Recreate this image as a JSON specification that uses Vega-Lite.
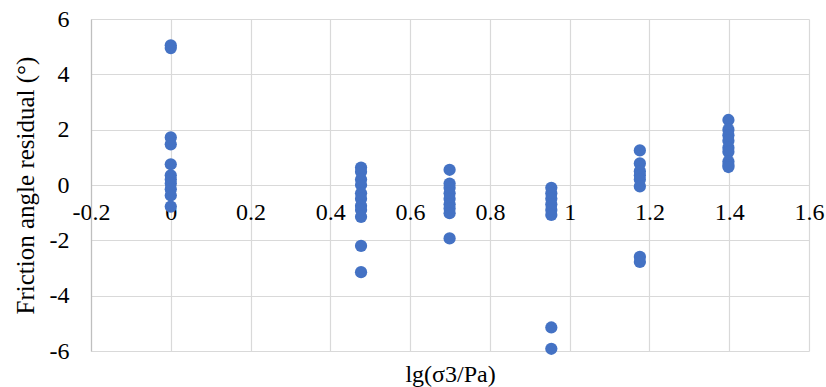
{
  "$schema": "https://vega.github.io/schema/vega-lite/v6.json",
  "width": 718,
  "height": 332,
  "autosize": "none",
  "padding": {"left": 91, "top": 19, "right": 17, "bottom": 36},
  "background": "white",
  "config": {
    "view": {"stroke": null},
    "font": "Liberation Serif"
  },
  "data": {
    "values": [
      {"x": 0, "y": 5.05}, {"x": 0, "y": 4.95}, {"x": 0, "y": 1.72}, {"x": 0, "y": 1.47},
      {"x": 0, "y": 0.75}, {"x": 0, "y": 0.35}, {"x": 0, "y": 0.2}, {"x": 0, "y": 0.05},
      {"x": 0, "y": -0.15}, {"x": 0, "y": -0.38}, {"x": 0, "y": -0.78},
      {"x": 0.477, "y": 0.63}, {"x": 0.477, "y": 0.48}, {"x": 0.477, "y": 0.2}, {"x": 0.477, "y": 0.0},
      {"x": 0.477, "y": -0.3}, {"x": 0.477, "y": -0.5}, {"x": 0.477, "y": -0.75}, {"x": 0.477, "y": -0.9},
      {"x": 0.477, "y": -1.15}, {"x": 0.477, "y": -2.2}, {"x": 0.477, "y": -3.15},
      {"x": 0.699, "y": 0.55}, {"x": 0.699, "y": 0.05}, {"x": 0.699, "y": -0.1}, {"x": 0.699, "y": -0.3},
      {"x": 0.699, "y": -0.5}, {"x": 0.699, "y": -0.7}, {"x": 0.699, "y": -0.85}, {"x": 0.699, "y": -1.02},
      {"x": 0.699, "y": -1.93},
      {"x": 0.954, "y": -0.1}, {"x": 0.954, "y": -0.3}, {"x": 0.954, "y": -0.5}, {"x": 0.954, "y": -0.7},
      {"x": 0.954, "y": -0.9}, {"x": 0.954, "y": -1.08}, {"x": 0.954, "y": -5.15}, {"x": 0.954, "y": -5.92},
      {"x": 1.176, "y": 1.25}, {"x": 1.176, "y": 0.78}, {"x": 1.176, "y": 0.5}, {"x": 1.176, "y": 0.35},
      {"x": 1.176, "y": 0.2}, {"x": 1.176, "y": -0.05}, {"x": 1.176, "y": -2.6}, {"x": 1.176, "y": -2.78},
      {"x": 1.398, "y": 2.35}, {"x": 1.398, "y": 2.0}, {"x": 1.398, "y": 1.8}, {"x": 1.398, "y": 1.6},
      {"x": 1.398, "y": 1.35}, {"x": 1.398, "y": 1.2}, {"x": 1.398, "y": 0.85}, {"x": 1.398, "y": 0.72},
      {"x": 1.398, "y": 0.65}
    ]
  },
  "mark": {"type": "point", "filled": true, "opacity": 1, "size": 150, "color": "#4472C4"},
  "encoding": {
    "x": {
      "field": "x", "type": "quantitative",
      "scale": {"domain": [-0.2, 1.6], "nice": false, "zero": false},
      "axis": {
        "values": [-0.2, 0, 0.2, 0.4, 0.6, 0.8, 1, 1.2, 1.4, 1.6],
        "labelExpr": "'' + datum.value",
        "offset": -165,
        "domain": false, "ticks": false,
        "grid": true, "gridColor": "#d9d9d9", "gridWidth": 1.2,
        "labelFont": "Liberation Serif", "labelFontSize": 24, "labelColor": "#000000",
        "labelPadding": 14, "labelFlush": false,
        "title": "lg(σ3/Pa)", "titleFont": "Liberation Serif", "titleFontSize": 24,
        "titleFontWeight": "normal", "titleColor": "#000000",
        "titleY": 195, "titleBaseline": "alphabetic"
      }
    },
    "y": {
      "field": "y", "type": "quantitative",
      "scale": {"domain": [-6, 6], "nice": false},
      "axis": {
        "values": [-6, -4, -2, 0, 2, 4, 6],
        "labelExpr": "'' + datum.value",
        "domain": true, "domainColor": "#bfbfbf", "domainWidth": 1.2,
        "ticks": false,
        "grid": true, "gridColor": "#d9d9d9", "gridWidth": 1.2,
        "labelFont": "Liberation Serif", "labelFontSize": 24, "labelColor": "#000000",
        "labelPadding": 22,
        "title": "Friction angle residual (°)", "titleFont": "Liberation Serif", "titleFontSize": 25,
        "titleFontWeight": "normal", "titleColor": "#000000",
        "titleX": -66, "titleBaseline": "middle"
      }
    }
  }
}
